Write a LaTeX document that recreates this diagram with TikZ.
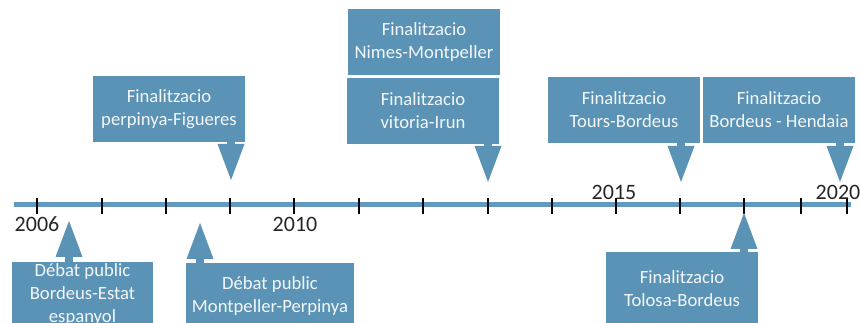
\documentclass[tikz,border=0pt]{standalone}
\usepackage{fontspec}
\setmainfont{Carlito}
\usetikzlibrary{arrows.meta}
\definecolor{boxblue}{RGB}{90,147,181}
\definecolor{axisblue}{RGB}{98,153,188}
\begin{document}
\begin{tikzpicture}[x=0.75pt,y=-0.75pt,
        event/.style={fill=boxblue, text=white!93!boxblue, align=center, inner sep=0pt,
          font=\fontsize{14}{17.25}\selectfont, minimum width=114pt, minimum height=49.5pt},
        pointer/.style={draw=boxblue, line width=6pt,
          -{Triangle[width=20.25pt,length=27pt,line width=0pt 0 0]}},
        year/.style={font=\fontsize{16.5}{19}\selectfont, text=black!85, inner sep=0pt}]
    \useasboundingbox (0,0) rectangle (861,323);
    \clip (0,0) rectangle (861,323);
    % time axis
    \draw [axisblue, line width=3.75pt] (14,205) -- (851,205);
    \foreach \x [count=\i] in {37,102,166,230,294,359,423,488,552,616,680,744,801,847}
      \draw [line width=0.8pt] (\x,198) coordinate (t\i) -- (\x,214);
    \node [year] (y2006) at (37,224) {2006};
    \node [year] (y2010) at (295,224) {2010};
    \node [year] (y2015) at (614,192) {2015};
    \node [year] (y2020) at (838,192) {2020};
    % events above
    \node [event] (pf) at (169,109) {Finalitzacio\\perpinya-Figueres};
    \node [event] (nm) at (424,42) {Finalitzacio\\Nimes-Montpeller};
    \node [event] (vi) at (423,111) {Finalitzacio\\vitoria-Irun};
    \node [event] (tb) at (624,110) {Finalitzacio\\Tours-Bordeus};
    \node [event] (bh) at (779,110) {Finalitzacio\\Bordeus - Hendaia};
    % events below
    \node [event, minimum width=105.75pt] (be) at (82.5,295) {D\'ebat public\\Bordeus-Estat\\espanyol};
    \node [event, minimum width=126pt] (mp) at (270,296) {D\'ebat public\\Montpeller-Perpinya};
    \node [event, minimum height=55.5pt] (tl) at (682,289) {Finalitzacio\\Tolosa-Bordeus};
    % pointers
    \coordinate (pfend) at (231,180);
    \coordinate (viend) at (488,182);
    \coordinate (tbend) at (681,182);
    \coordinate (bhend) at (840,182);
    \coordinate (beend) at (69,221);
    \coordinate (mpend) at (200,223);
    \coordinate (tlend) at (744,213);
    \draw [pointer] (pf.south -| pfend) -- (pfend);
    \draw [pointer] (vi.south -| viend) -- (viend);
    \draw [pointer] (tb.south -| tbend) -- (tbend);
    \draw [pointer] (bh.south -| bhend) -- (bhend);
    \draw [pointer] (be.north -| beend) -- (beend);
    \draw [pointer] (mp.north -| mpend) -- (mpend);
    \draw [pointer] (tl.north -| tlend) -- (tlend);
\end{tikzpicture}
\end{document}
